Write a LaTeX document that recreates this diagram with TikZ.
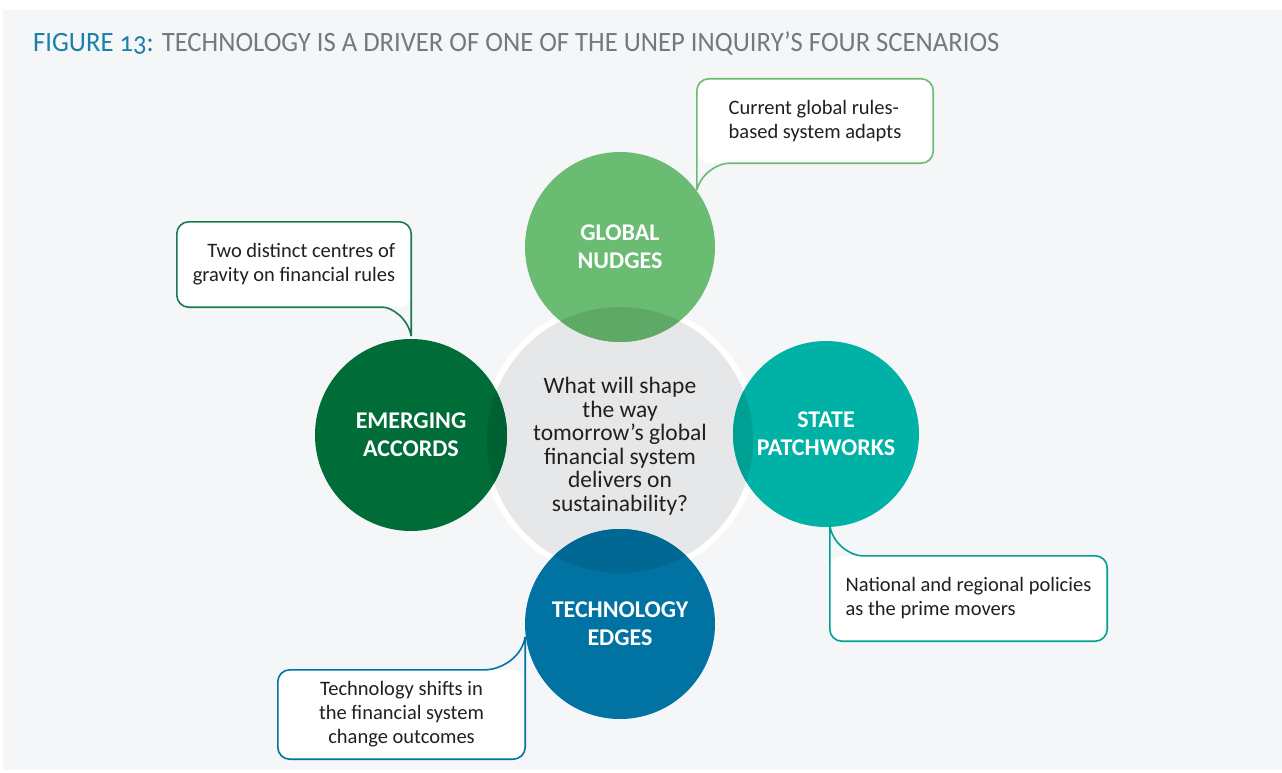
\documentclass[tikz,border=0pt]{standalone}
\usepackage{fontspec}
\setmainfont{Carlito}
\newfontfamily\titlefont[FakeStretch=0.952,Numbers=OldStyle]{Carlito}
\usetikzlibrary{positioning}
\usetikzlibrary{calc}

\definecolor{bgrey}{HTML}{F5F6F8}
\definecolor{cgrey}{HTML}{E6E7E8}
\definecolor{gncol}{HTML}{69BC72}
\definecolor{eacol}{HTML}{006C38}
\definecolor{spcol}{HTML}{00B2A6}
\definecolor{tecol}{HTML}{0073A2}
\definecolor{figblue}{HTML}{1A80A8}
\definecolor{figgrey}{HTML}{77787B}
\definecolor{txt}{HTML}{231F20}

\begin{document}
\begin{tikzpicture}[x=1pt, y=1pt,
    ball/.style={circle, fill=#1, minimum size=190, inner sep=0pt, text=white,
      font=\bfseries\fontsize{24}{28}\selectfont, align=center},
    note/.style={fill=white, rounded corners=12pt, inner sep=0pt, text=txt,
      font=\fontsize{20.5}{24}\selectfont},
    noteline/.style={draw=#1, line width=1.6pt}]
  \useasboundingbox (0,0) rectangle (1282,-773);
  \fill[white] (0,0) rectangle (1282,-773);
  \fill[bgrey] (3,-10) rectangle (1282,-770);

  \node[anchor=base west, inner sep=0pt, font=\titlefont\fontsize{28}{28}\selectfont] (title) at (33,-52)
    {\textcolor{figblue}{FIGURE 13:} \textcolor{figgrey}{TECHNOLOGY IS A DRIVER OF ONE OF THE UNEP INQUIRY’S FOUR SCENARIOS}};

  % question in the middle
  \node[circle, fill=cgrey, draw=white, line width=6pt, minimum size=272, inner sep=0pt] (core) at (620,-440) {};
  \node[text=txt, align=center, font=\fontsize{23.5}{23.5}\selectfont] (question) at (620,-446)
    {What will shape\\the way\\tomorrow’s global\\financial system\\delivers on\\sustainability?};

  % the four scenarios
  \node[ball=gncol] (gn) at (620,-247) {GLOBAL\\NUDGES};
  \node[ball=eacol, minimum size=192] (ea) at (411,-435) {EMERGING\\ACCORDS};
  \node[ball=spcol, minimum size=186] (sp) at (826,-434) {STATE\\PATCHWORKS};
  \node[ball=tecol] (te) at (620,-624) {TECHNOLOGY\\EDGES};

  % darker where they lie over the grey disc
  \begin{scope}
    \clip (core.center) circle (133);
    \fill[gncol!90!black] (gn.center) circle (95);
    \fill[eacol!90!black] (ea.center) circle (96);
    \fill[spcol!90!black] (sp.center) circle (93);
    \fill[tecol!90!black] (te.center) circle (95);
  \end{scope}

  % callouts
  \node[note, minimum width=236, minimum height=84, align=left] (gnnote) at (815,-121)
    {Current global rules-\\based system adapts};
  \node[note, minimum width=234, minimum height=85, align=right] (eanote) at (294,-264.5)
    {Two distinct centres of\\gravity on financial rules};
  \node[note, minimum width=277, minimum height=85, align=left] (spnote) at (968.5,-598.5)
    {National and regional policies\\as the prime movers};
  \node[note, minimum width=247, minimum height=89, align=center] (tenote) at (401.5,-714.5)
    {Technology shifts in\\the financial system\\change outcomes};

  \coordinate (gntip) at ($(gnnote.south west)+(0,-27)$);
  \coordinate (eatip) at ($(eanote.south east)+(0,-29)$);
  \coordinate (sptip) at ($(spnote.north west)+(0,30)$);
  \coordinate (tetip) at ($(tenote.north east)+(0,33)$);

  \draw[noteline=gncol] (gntip) [rounded corners=12pt] -- (gnnote.north west) -- (gnnote.north east)
    -- (gnnote.south east) -- ($(gnnote.south west)+(44,0)$) [sharp corners] to[out=180, in=75] (gntip);
  \draw[noteline=eacol!90!white] (eatip) [rounded corners=12pt] -- (eanote.north east) -- (eanote.north west)
    -- (eanote.south west) -- ($(eanote.south east)+(-40,0)$) [sharp corners] to[out=0, in=100] (eatip);
  \draw[noteline=spcol!90!black] (sptip) [rounded corners=12pt] -- (spnote.south west) -- (spnote.south east)
    -- (spnote.north east) -- ($(spnote.north west)+(44,0)$) [sharp corners] to[out=180, in=-80] (sptip);
  \draw[noteline=tecol] (tetip) [rounded corners=12pt] -- (tenote.south east) -- (tenote.south west)
    -- (tenote.north west) -- ($(tenote.north east)+(-52,0)$) [sharp corners] to[out=0, in=-100] (tetip);
\end{tikzpicture}
\end{document}
